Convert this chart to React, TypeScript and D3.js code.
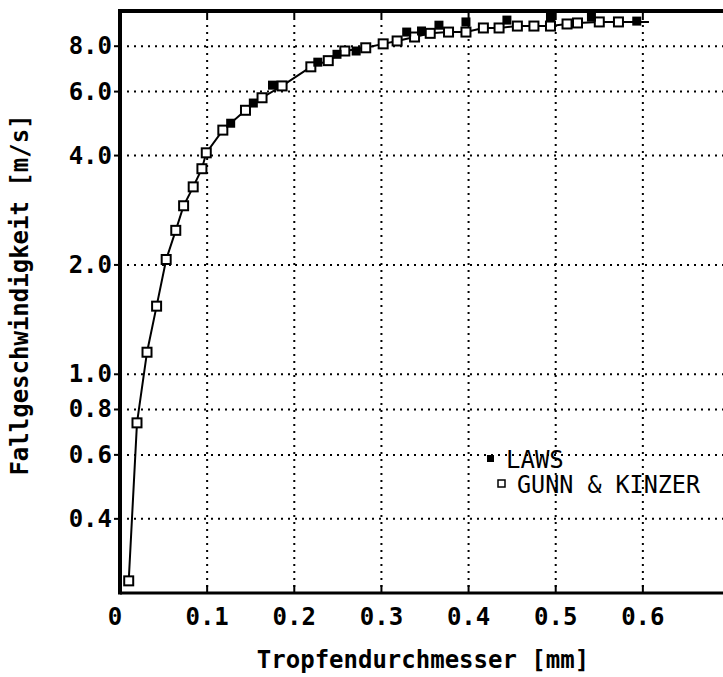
import React from "react";
import * as d3 from "d3";

const gunnX = [0.010, 0.0195, 0.031, 0.042, 0.053, 0.064, 0.073, 0.084, 0.094, 0.099, 0.118, 0.144, 0.163, 0.186, 0.219, 0.239, 0.258, 0.282, 0.302, 0.318, 0.338, 0.356, 0.377, 0.397, 0.417, 0.435, 0.456, 0.475, 0.494, 0.513, 0.525, 0.550, 0.572];
const gunnY = [0.27, 0.735, 1.15, 1.54, 2.07, 2.49, 2.91, 3.28, 3.68, 4.07, 4.70, 5.33, 5.77, 6.22, 7.02, 7.30, 7.76, 7.92, 8.12, 8.27, 8.48, 8.68, 8.75, 8.75, 8.98, 8.98, 9.09, 9.09, 9.09, 9.21, 9.27, 9.33, 9.33];
const lawsX = [0.127, 0.153, 0.175, 0.227, 0.249, 0.271, 0.329, 0.346, 0.366, 0.397, 0.444, 0.494, 0.541, 0.593];
const lawsY = [4.91, 5.58, 6.25, 7.23, 7.60, 7.76, 8.75, 8.81, 9.14, 9.33, 9.44, 9.62, 9.62, 9.38];
const curveEndX = [0.607];
const curveEndY = [9.33];
const xTicks = [0, 0.1, 0.2, 0.3, 0.4, 0.5, 0.6];
const xTickLabels = ["0", "0.1", "0.2", "0.3", "0.4", "0.5", "0.6"];
const yTicks = [0.4, 0.6, 0.8, 1, 2, 4, 6, 8];
const yTickLabels = ["0.4", "0.6", "0.8", "1.0", "2.0", "4.0", "6.0", "8.0"];

const W = 723, H = 677;
const L = 120, T = 11, B = 593, R = 730;

export default function App() {
  const x = d3.scaleLinear().domain([0, 0.7]).range([L, R]);
  const y = d3.scaleLog().domain([0.25, 10]).range([B, T]);
  const curvePts: [number, number][] = gunnX.map((v, i) => [v, gunnY[i]] as [number, number]).concat(curveEndX.map((v, i) => [v, curveEndY[i]] as [number, number]));
  const line = d3.line<[number, number]>().x(d => x(d[0])).y(d => y(d[1]));
  const font = "'DejaVu Sans Mono', monospace";
  return (
    <svg width={W} height={H} style={{ display: "block", position: "absolute", left: 0, top: 0, background: "#fff" }}>
      <rect x={0} y={0} width={W} height={H} fill="#fff" />
      {yTicks.map((t, i) => (
        <line key={"gy" + i} x1={L} x2={W} y1={y(t)} y2={y(t)} stroke="#000" strokeWidth={2} strokeDasharray="2 5" />
      ))}
      {xTicks.slice(1).map((t, i) => (
        <line key={"gx" + i} x1={x(t)} x2={x(t)} y1={T} y2={B} stroke="#000" strokeWidth={2} strokeDasharray="2 5" />
      ))}
      <line x1={L} x2={W} y1={B} y2={B} stroke="#000" strokeWidth={3} />
      <line x1={L} x2={W} y1={T} y2={T} stroke="#000" strokeWidth={4} />
      <line x1={L} x2={L} y1={T - 2} y2={B + 1.5} stroke="#000" strokeWidth={4} />
      {xTicks.slice(1).map((t, i) => (
        <g key={"xt" + i}>
          <line x1={x(t)} x2={x(t)} y1={B} y2={B - 8} stroke="#000" strokeWidth={2} />
          <line x1={x(t)} x2={x(t)} y1={T} y2={T + 7} stroke="#000" strokeWidth={2} />
        </g>
      ))}
      {yTicks.map((t, i) => (
        <line key={"yt" + i} x1={L - 6} x2={L} y1={y(t)} y2={y(t)} stroke="#000" strokeWidth={2} />
      ))}
      {xTicks.map((t, i) => (
        <text key={"xl" + i} x={x(t) - (i === 0 ? 5 : 0)} y={625} textAnchor="middle" fontFamily={font} fontWeight="bold" fontSize={24}>{xTickLabels[i]}</text>
      ))}
      {yTicks.map((t, i) => (
        <text key={"yl" + i} x={112} y={y(t) + 8} textAnchor="end" fontFamily={font} fontWeight="bold" fontSize={24}>{yTickLabels[i]}</text>
      ))}
      <text x={423} y={668} textAnchor="middle" fontFamily={font} fontWeight="bold" fontSize={24}>Tropfendurchmesser [mm]</text>
      <text transform="translate(28,295) rotate(-90)" textAnchor="middle" fontFamily={font} fontWeight="bold" fontSize={24}>Fallgeschwindigkeit [m/s]</text>
      <path d={line(curvePts) || ""} fill="none" stroke="#000" strokeWidth={2} />
      {gunnX.map((v, i) => (
        <rect key={"g" + i} x={x(v) - 4.5} y={y(gunnY[i]) - 4.5} width={9} height={9} fill="#fff" stroke="#000" strokeWidth={2} />
      ))}
      {lawsX.map((v, i) => (
        <rect key={"l" + i} x={x(v) - 4.5} y={y(lawsY[i]) - 4.5} width={9} height={9} fill="#000" />
      ))}
      <rect x={487} y={455} width={7} height={7} fill="#000" />
      <text x={506} y={468} fontFamily={font} fontSize={24}>LAWS</text>
      <rect x={498} y={480} width={7} height={7} fill="#fff" stroke="#000" strokeWidth={1.5} />
      <text x={517} y={493} fontFamily={font} fontSize={24} textLength={183} lengthAdjust="spacingAndGlyphs">GUNN &amp; KINZER</text>
    </svg>
  );
}
